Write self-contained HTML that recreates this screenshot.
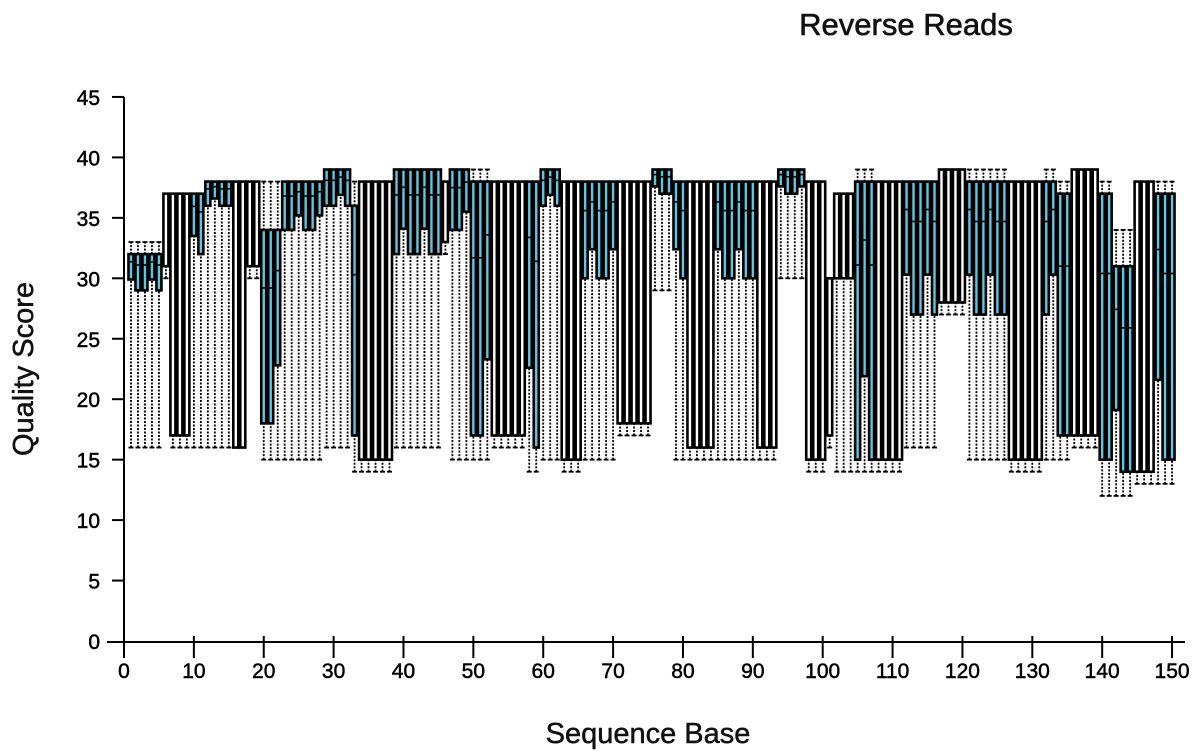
<!DOCTYPE html>
<html><head><meta charset="utf-8"><style>
html,body{margin:0;padding:0;background:#fff;}
svg{display:block;font-family:"Liberation Sans",Arial,sans-serif;}
</style></head><body>
<svg id="s" width="1200" height="756" viewBox="0 0 1200 756">
<text x="906" y="35" font-size="31" text-anchor="middle" fill="#111" stroke="#111" stroke-width="0.6">Reverse Reads</text>
<text x="648" y="743" font-size="29" text-anchor="middle" fill="#111" stroke="#111" stroke-width="0.5">Sequence Base</text>
<text transform="translate(33,369) rotate(-90)" font-size="29" text-anchor="middle" fill="#111" stroke="#111" stroke-width="0.5">Quality Score</text>
<g id="ax" stroke="#000" stroke-width="2"></g>
<g id="lab" font-size="21" fill="#000" stroke="#000" stroke-width="0.5"></g>
<g id="box"></g>
</svg>
<script>
var NS="http://www.w3.org/2000/svg";
function el(p,t,a,txt){var e=document.createElementNS(NS,t);for(var k in a)e.setAttribute(k,a[k]);if(txt!=null)e.textContent=txt;p.appendChild(e);return e;}
function X(b){return 124+b*6.987;}
function Y(v){return 641-v*12.09;}
var ax=document.getElementById('ax'),lab=document.getElementById('lab'),bx=document.getElementById('box');
el(ax,'line',{x1:124,y1:Y(45),x2:124,y2:648});
el(ax,'line',{x1:107,y1:642,x2:1185,y2:642});
for(var v=5;v<=45;v+=5){el(ax,'line',{x1:112,y1:Y(v),x2:124,y2:Y(v)});}
for(var v=0;v<=45;v+=5){el(lab,'text',{x:100,y:Y(v)+8,'text-anchor':'end'},v);}
for(var b=0;b<=150;b+=10){el(ax,'line',{x1:X(b),y1:636,x2:X(b),y2:658});el(lab,'text',{x:X(b),y:678,'text-anchor':'middle'},b);}
var R=[
[1,5,16,29,32,33,1],[6,6,30,31,37,37,0],[7,9,16,17,37,37,0],[10,11,16,32,37,37,1],
[12,15,16,36,38,38,1],[16,17,16,16,38,38,0],[18,19,30,31,38,38,0],[20,22,15,18,34,38,1],
[23,28,15,34,38,38,1],[29,32,16,36,39,39,1],[33,33,14,17,36,38,1],[34,38,14,15,38,38,0],
[39,45,16,32,39,39,1],[46,46,32,33,38,38,0],[47,49,15,34,39,39,1],[50,52,15,17,38,39,1],
[53,57,16,17,38,38,0],[58,59,14,16,38,38,1],[60,62,15,36,39,39,1],[63,65,14,15,38,38,0],
[66,70,15,30,38,38,1],[71,75,17,18,38,38,0],[76,78,29,37,39,39,1],[79,80,15,30,38,38,1],
[81,84,15,16,38,38,0],[85,90,15,30,38,38,1],[91,93,15,16,38,38,0],[94,97,30,37,39,39,1],
[98,100,14,15,38,38,0],[101,101,16,17,30,30,0],[102,104,14,30,37,37,0],[105,107,14,15,38,39,1],
[108,111,14,15,38,38,0],[112,116,16,27,38,38,1],[117,120,27,28,39,39,0],[121,126,15,27,38,39,1],
[127,131,14,15,38,38,0],[132,133,15,27,38,39,1],[134,135,15,17,37,38,1],[136,139,16,17,39,39,0],
[140,141,12,15,37,38,1],[142,144,12,14,31,34,1],[145,147,13,14,38,38,0],[148,150,13,15,37,38,1]];
R.forEach(function(r){for(var b=r[0];b<=r[1];b++){
var x=X(b),w=5,h=w/2;
var lo=r[2],q1=r[3],q3=r[4],hi=r[5];
if(r[6]){var m=(b%3); if(m==1){q1=Math.min(q1+(q3-q1)*0.3,q3-1);}}
el(bx,'line',{x1:x,y1:Y(lo),x2:x,y2:Y(q1),stroke:'#000','stroke-width':1.8,'stroke-dasharray':'2,1.5'});
el(bx,'line',{x1:x,y1:Y(q3),x2:x,y2:Y(hi),stroke:'#000','stroke-width':1.8,'stroke-dasharray':'2,1.5'});
el(bx,'line',{x1:x-2.5,y1:Y(lo),x2:x+2.5,y2:Y(lo),stroke:'#000','stroke-width':1.8});
el(bx,'line',{x1:x-2.5,y1:Y(hi),x2:x+2.5,y2:Y(hi),stroke:'#000','stroke-width':1.8});
el(bx,'rect',{x:x-h,y:Y(q3),width:w,height:Math.max(1,Y(q1)-Y(q3)),fill:r[6]?'#66c3de':'#fff',stroke:'#000','stroke-width':2.6});
if(r[6])el(bx,'line',{x1:x-h,y1:Y((q1+q3)/2+(q3-q1)*0.2),x2:x+h,y2:Y((q1+q3)/2+(q3-q1)*0.2),stroke:'#000','stroke-width':1.6});
}});
</script>
</body></html>
